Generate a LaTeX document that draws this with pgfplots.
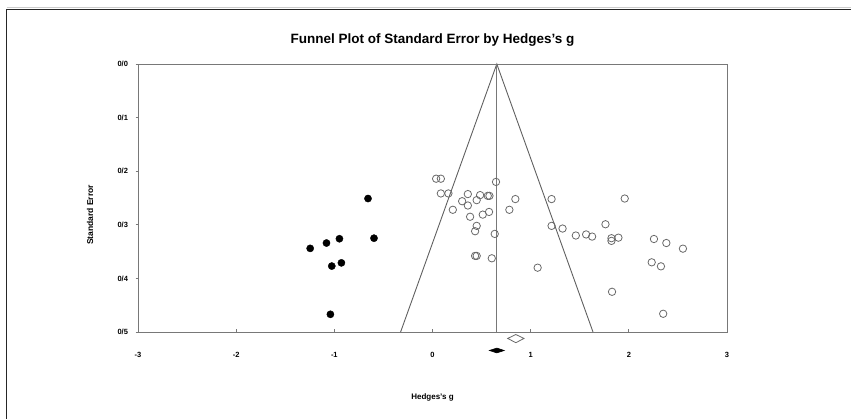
\documentclass[border=0pt]{standalone}
\usepackage{fontspec}
\setmainfont{Liberation Sans}
\usepackage{pgfplots}
\pgfplotsset{compat=1.18}
\definecolor{axgray}{RGB}{120,120,120}
\definecolor{ptgray}{RGB}{105,105,105}
\begin{document}
\begin{tikzpicture}[x=1pt,y=1pt]
\path[use as bounding box] (0pt,0pt) rectangle (851pt,419pt);
\draw[black!85, line width=1.2pt] (6.5pt,0pt) -- (6.5pt,409.5pt) -- (851pt,409.5pt);
\draw[gray!40, line width=0.8pt] (6.5pt,411.5pt) -- (851pt,411.5pt);
\begin{axis}[
  at={(138pt,221pt)}, anchor=west, scale only axis,
  width=589pt, height=268pt,
  xmin=-3, xmax=3, ymin=0, ymax=0.5, y dir=reverse,
  clip=false,
  axis line style={axgray, line width=0.9pt},
  xtick={-3,-2,-1,0,1,2,3}, xticklabels={-3,-2,-1,0,1,2,3},
  ytick={0,0.1,0.2,0.3,0.4,0.5}, yticklabels={0/0,0/1,0/2,0/3,0/4,0/5},
  xtick pos=bottom, ytick pos=left,
  xtick align=inside, ytick align=outside,
  major tick length=2.5pt,
  tick style={axgray, line width=0.8pt},
  tick label style={font=\fontsize{7.5}{8}\selectfont\bfseries},
  xticklabel style={yshift=-17pt},
  yticklabel style={xshift=-4pt},
  title={Funnel Plot of Standard Error by Hedges's g},
  title style={font=\fontsize{13.5}{15}\selectfont\bfseries, at={(0.5,1)}, anchor=center, yshift=18pt},
  xlabel={Hedges's g},
  xlabel style={font=\fontsize{8}{9}\selectfont\bfseries, at={(axis description cs:0.5,-0.2425)}, anchor=center},
  ylabel={Standard Error},
  ylabel style={font=\fontsize{8.5}{9}\selectfont\bfseries, at={(axis description cs:-0.0815,0.437)}, anchor=center},
]
% funnel
\addplot[axgray!80!black, line width=0.9pt] coordinates {(-0.325,0.5) (0.655,0) (1.635,0.5)};
\addplot[axgray, line width=1.3pt] coordinates {(0.655,0) (0.655,0.5)};
% imputed (filled) studies
\addplot[only marks, mark=*, mark size=3.6pt, mark options={fill=black, draw=black}] coordinates {
(-0.657,0.251) (-0.596,0.325) (-0.948,0.326) (-1.080,0.334) (-1.246,0.344)
(-0.928,0.371) (-1.026,0.377) (-1.040,0.467)
};
% observed (open) studies
\addplot[only marks, mark=o, mark size=3.7pt, mark options={draw=ptgray, line width=0.8pt}] coordinates {
(0.037,0.214) (0.085,0.214) (0.647,0.220)
(0.085,0.2415) (0.162,0.2415) (0.360,0.2427) (0.485,0.2446) (0.563,0.246) (0.580,0.246)
(0.450,0.254) (0.844,0.252) (0.302,0.256) (0.360,0.264) (0.207,0.272) (0.783,0.272)
(0.576,0.276) (0.512,0.281) (0.383,0.285) (1.213,0.252) (0.450,0.302) (0.434,0.312)
(0.634,0.317) (1.213,0.302) (1.325,0.307) (1.460,0.320) (1.565,0.318) (1.626,0.322)
(1.762,0.299) (1.823,0.325) (1.823,0.330) (1.894,0.324) (0.434,0.358) (0.450,0.358)
(0.604,0.3625) (1.071,0.380) (1.829,0.425) (1.958,0.251) (2.256,0.3265) (2.382,0.334)
(2.551,0.3445) (2.233,0.370) (2.327,0.3775) (2.350,0.466)
};
% summary diamonds
\addplot[draw=ptgray, fill=white, line width=0.8pt] coordinates {(0.766,0.512) (0.849,0.5047) (0.932,0.512) (0.849,0.520) (0.766,0.512)} -- cycle;
\addplot[draw=black, fill=black, line width=0.6pt] coordinates {(0.580,0.5345) (0.655,0.530) (0.730,0.5345) (0.655,0.539) (0.580,0.5345)} -- cycle;
\end{axis}
\end{tikzpicture}
\end{document}
